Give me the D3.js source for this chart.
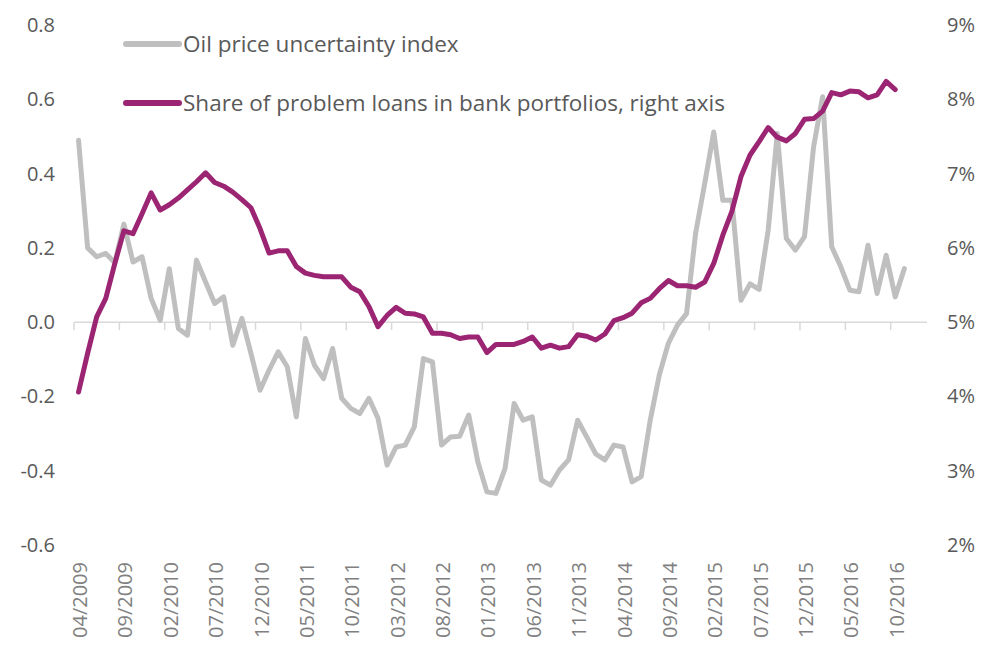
<!DOCTYPE html>
<html>
<head>
<meta charset="utf-8">
<script src="https://cdn.jsdelivr.net/npm/d3@7"></script>
<style>
  html, body { margin: 0; padding: 0; background: #ffffff; }
  svg { display: block; }
  text { font-family: "Open Sans", "Noto Sans", sans-serif; }
</style>
</head>
<body>
<svg id="chart" width="989" height="648"></svg>
<script>
// ---------------- DATA ----------------
const months = [
  "04/2009","05/2009","06/2009","07/2009","08/2009","09/2009","10/2009","11/2009","12/2009",
  "01/2010","02/2010","03/2010","04/2010","05/2010","06/2010","07/2010","08/2010","09/2010","10/2010","11/2010","12/2010",
  "01/2011","02/2011","03/2011","04/2011","05/2011","06/2011","07/2011","08/2011","09/2011","10/2011","11/2011","12/2011",
  "01/2012","02/2012","03/2012","04/2012","05/2012","06/2012","07/2012","08/2012","09/2012","10/2012","11/2012","12/2012",
  "01/2013","02/2013","03/2013","04/2013","05/2013","06/2013","07/2013","08/2013","09/2013","10/2013","11/2013","12/2013",
  "01/2014","02/2014","03/2014","04/2014","05/2014","06/2014","07/2014","08/2014","09/2014","10/2014","11/2014","12/2014",
  "01/2015","02/2015","03/2015","04/2015","05/2015","06/2015","07/2015","08/2015","09/2015","10/2015","11/2015","12/2015",
  "01/2016","02/2016","03/2016","04/2016","05/2016","06/2016","07/2016","08/2016","09/2016","10/2016","11/2016","12/2016",
  "01/2017"
];

const oilUncertainty = [
  0.490, 0.200, 0.176, 0.185, 0.160, 0.264, 0.162, 0.176, 0.064, 0.005,
  0.144, -0.017, -0.035, 0.167, 0.108, 0.050, 0.068, -0.062, 0.010, -0.084,
  -0.183, -0.129, -0.080, -0.120, -0.255, -0.044, -0.116, -0.152, -0.071, -0.205,
  -0.232, -0.246, -0.205, -0.259, -0.385, -0.336, -0.331, -0.282, -0.098, -0.107,
  -0.331, -0.309, -0.307, -0.250, -0.376, -0.457, -0.461, -0.394, -0.219, -0.264,
  -0.255, -0.425, -0.439, -0.398, -0.371, -0.264, -0.309, -0.355, -0.371, -0.331,
  -0.336, -0.430, -0.416, -0.264, -0.142, -0.057, -0.008, 0.023, 0.239, 0.373,
  0.512, 0.328, 0.328, 0.059, 0.103, 0.088, 0.248, 0.508, 0.225, 0.194,
  0.230, 0.472, 0.607, 0.203, 0.149, 0.086, 0.082, 0.207, 0.077, 0.180,
  0.068, 0.144
];

const problemLoans = [
  4.06, 4.58, 5.07, 5.32, 5.79, 6.23, 6.19, 6.46, 6.74, 6.51,
  6.58, 6.67, 6.78, 6.89, 7.01, 6.88, 6.83, 6.75, 6.65, 6.54,
  6.26, 5.93, 5.96, 5.96, 5.75, 5.66, 5.63, 5.61, 5.61, 5.61,
  5.47, 5.41, 5.21, 4.94, 5.09, 5.20, 5.12, 5.11, 5.07, 4.85,
  4.85, 4.83, 4.78, 4.80, 4.80, 4.59, 4.70, 4.70, 4.70, 4.74,
  4.80, 4.65, 4.69, 4.65, 4.67, 4.83, 4.81, 4.76, 4.84, 5.02,
  5.06, 5.12, 5.26, 5.32, 5.45, 5.56, 5.49, 5.49, 5.47, 5.54,
  5.79, 6.17, 6.49, 6.96, 7.25, 7.43, 7.62, 7.49, 7.44, 7.54,
  7.73, 7.74, 7.84, 8.09, 8.06, 8.11, 8.10, 8.02, 8.06, 8.24,
  8.13
];

const leftTicks = [0.8, 0.6, 0.4, 0.2, 0.0, -0.2, -0.4, -0.6];
const rightTicks = [9, 8, 7, 6, 5, 4, 3, 2];
const seriesNames = ["Oil price uncertainty index", "Share of problem loans in bank portfolios, right axis"];
const labelEvery = 5;

// ---------------- LAYOUT ----------------
const svg = d3.select("#chart");
const plot = { left: 74, right: 927, top: 25, bottom: 545 };
const grayCol = "#BFBFBF";
const purpleCol = "#9B2573";

const x = d3.scaleLinear().domain([0, months.length]).range([plot.left, plot.right]);
const yL = d3.scaleLinear().domain([-0.6, 0.8]).range([plot.bottom, plot.top]);
const yR = d3.scaleLinear().domain([2, 9]).range([plot.bottom, plot.top]);

// left axis labels
svg.append("g").selectAll("text").data(leftTicks).join("text")
  .attr("x", 55).attr("y", d => yL(d))
  .attr("dy", "0.35em")
  .attr("text-anchor", "end")
  .attr("font-size", 20).attr("fill", "#595959")
  .text(d => d.toFixed(1));

// right axis labels
svg.append("g").selectAll("text").data(rightTicks).join("text")
  .attr("x", 947).attr("y", d => yR(d))
  .attr("dy", "0.35em")
  .attr("text-anchor", "start")
  .attr("font-size", 20).attr("fill", "#595959")
  .text(d => d + "%");

// x axis line at 0 with ticks between categories
const axisY = yL(0);
svg.append("line")
  .attr("x1", plot.left).attr("x2", plot.right)
  .attr("y1", axisY).attr("y2", axisY)
  .attr("stroke", "#D9D9D9").attr("stroke-width", 1.5);

const tickIdx = d3.range(0, months.length, labelEvery);
svg.append("g").selectAll("line").data(tickIdx).join("line")
  .attr("x1", d => x(d)).attr("x2", d => x(d))
  .attr("y1", axisY).attr("y2", axisY + 8)
  .attr("stroke", "#D9D9D9").attr("stroke-width", 1.5);

// x labels (low position, rotated)
svg.append("g").selectAll("text").data(tickIdx.filter(i => i < 92)).join("text")
  .attr("transform", d => `translate(${x(d + 0.5) + 1.5},562) rotate(-90)`)
  .attr("text-anchor", "end")
  .attr("dy", "0.35em")
  .attr("font-size", 20).attr("fill", "#808080")
  .text(d => months[d]);

// lines
const grayLine = d3.line().x((d, i) => x(i + 0.5)).y(d => yL(d));
const purpleLine = d3.line().x((d, i) => x(i + 0.5)).y(d => yR(d));

svg.append("path").datum(oilUncertainty)
  .attr("d", grayLine).attr("fill", "none")
  .attr("stroke", grayCol).attr("stroke-width", 5)
  .attr("stroke-linejoin", "round").attr("stroke-linecap", "round");

svg.append("path").datum(problemLoans)
  .attr("d", purpleLine).attr("fill", "none")
  .attr("stroke", purpleCol).attr("stroke-width", 5)
  .attr("stroke-linejoin", "round").attr("stroke-linecap", "round");

// legend
const legend = [
  { name: seriesNames[0], color: grayCol, y: 44 },
  { name: seriesNames[1], color: purpleCol, y: 103 }
];
const lg = svg.append("g");
lg.selectAll("line").data(legend).join("line")
  .attr("x1", 126).attr("x2", 179)
  .attr("y1", d => d.y).attr("y2", d => d.y)
  .attr("stroke", d => d.color).attr("stroke-width", 6)
  .attr("stroke-linecap", "round");
lg.selectAll("text").data(legend).join("text")
  .attr("x", 183).attr("y", d => d.y)
  .attr("dy", "0.35em")
  .attr("font-size", 22.5).attr("fill", "#595959")
  .text(d => d.name);
</script>
</body>
</html>
